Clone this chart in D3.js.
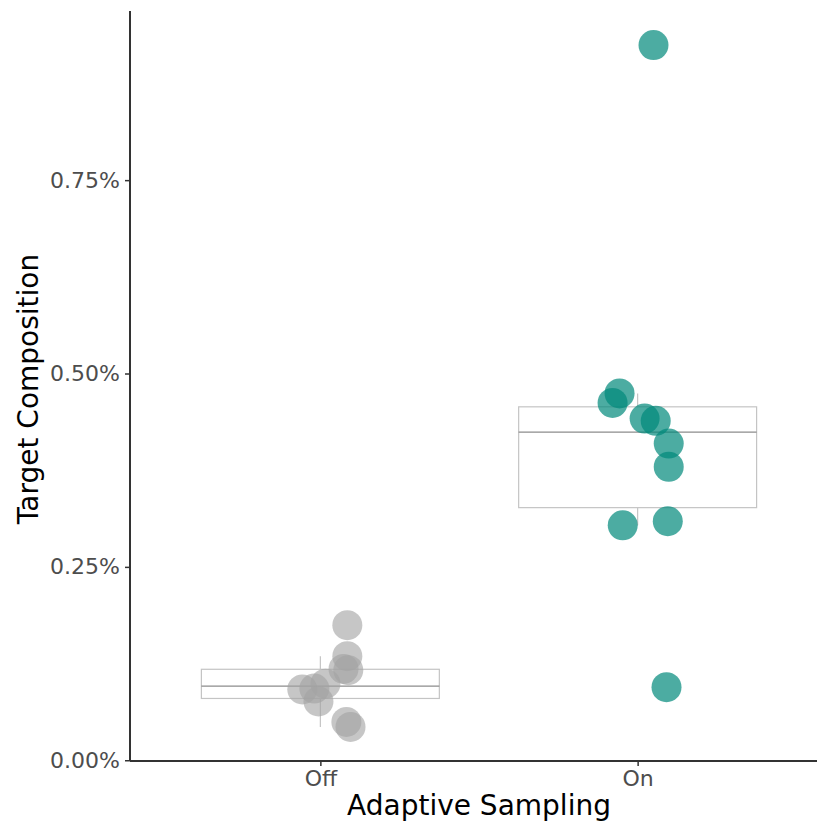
<!DOCTYPE html>
<html>
<head>
<meta charset="utf-8">
<script src="https://cdn.jsdelivr.net/npm/d3@7"></script>
<style>
  html, body { margin: 0; padding: 0; background: #fff; }
  svg { display: block; font-family: "DejaVu Sans", sans-serif; }
</style>
</head>
<body>
<svg width="817" height="824"></svg>
<script>
// groups on the x axis
const groups = ["Off", "On"];

// target composition (percent)
const offValues = [0.1746, 0.1345, 0.1180, 0.1164, 0.0990, 0.0927, 0.0915, 0.0760, 0.0495, 0.0431];
const onValues  = [0.9246, 0.4742, 0.4620, 0.4417, 0.4388, 0.4094, 0.3793, 0.3090, 0.3037, 0.0944];

// horizontal jitter of each point, in units of the category step
const offJitter = [0.085, 0.085, 0.073, 0.088, 0.016, -0.019, -0.057, -0.006, 0.082, 0.095];
const onJitter  = [0.050, -0.057, -0.079, 0.022, 0.057, 0.098, 0.098, 0.095, -0.047, 0.091];

const yTicks = [0, 0.25, 0.5, 0.75];
const groupColors = { Off: "#a3a3a3", On: "#00897b" };

const W = 817, H = 824;
const mLeft = 130, mTop = 11, mBottom = 761;

const svg = d3.select("svg");

const series = [
  { group: "Off", values: offValues, jitter: offJitter },
  { group: "On",  values: onValues,  jitter: onJitter }
];
const allValues = offValues.concat(onValues);
const [lo, hi] = d3.extent(allValues);
const pad = (hi - lo) * 0.05;

const x = d3.scalePoint()
  .domain(groups)
  .range([mLeft, 828])
  .padding(0.6);

const y = d3.scaleLinear()
  .domain([lo - pad, hi + pad])
  .range([mBottom, mTop]);

const step = x.step();
const boxW = step * 0.75;

// boxplot stats (type 7 quantiles, 1.5 IQR whiskers)
function stats(vals) {
  const s = vals.slice().sort(d3.ascending);
  const q1 = d3.quantile(s, 0.25), med = d3.quantile(s, 0.5), q3 = d3.quantile(s, 0.75);
  const iqr = q3 - q1;
  const inside = s.filter(v => v >= q1 - 1.5 * iqr && v <= q3 + 1.5 * iqr);
  return { q1, med, q3, lo: d3.min(inside), hi: d3.max(inside) };
}

const boxes = svg.append("g").selectAll("g")
  .data(series)
  .join("g")
  .attr("transform", d => `translate(${x(d.group)},0)`);

boxes.each(function(d) {
  const st = stats(d.values);
  const g = d3.select(this);
  g.append("line")
    .attr("y1", y(st.hi)).attr("y2", y(st.q3))
    .attr("stroke", "#c4c4c4").attr("stroke-width", 1.2);
  g.append("line")
    .attr("y1", y(st.q1)).attr("y2", y(st.lo))
    .attr("stroke", "#c4c4c4").attr("stroke-width", 1.2);
  g.append("rect")
    .attr("x", -boxW / 2).attr("width", boxW)
    .attr("y", y(st.q3)).attr("height", y(st.q1) - y(st.q3))
    .attr("fill", "none").attr("stroke", "#c4c4c4").attr("stroke-width", 1.2);
  g.append("line")
    .attr("x1", -boxW / 2).attr("x2", boxW / 2)
    .attr("y1", y(st.med)).attr("y2", y(st.med))
    .attr("stroke", "#8c8c8c").attr("stroke-width", 1.3);
});

// points
const points = series.flatMap(s => s.values.map((v, i) => ({ group: s.group, value: v, jitter: s.jitter[i] })));
svg.append("g").selectAll("circle")
  .data(points)
  .join("circle")
  .attr("cx", d => x(d.group) + d.jitter * step)
  .attr("cy", d => y(d.value))
  .attr("r", 15)
  .attr("fill", d => groupColors[d.group])
  .attr("fill-opacity", d => d.group === "Off" ? 0.62 : 0.7);

// axes
const yAxis = svg.append("g")
  .attr("transform", `translate(${mLeft},0)`)
  .call(d3.axisLeft(y).tickValues(yTicks).tickFormat(d => d3.format(".2f")(d) + "%").tickSize(5).tickPadding(5));
const xAxis = svg.append("g")
  .attr("transform", `translate(0,${mBottom})`)
  .call(d3.axisBottom(x).tickSize(5).tickPadding(4));

[yAxis, xAxis].forEach(a => {
  a.select(".domain").attr("stroke", "#333").attr("stroke-width", 2);
  a.selectAll(".tick line").attr("stroke", "#333").attr("stroke-width", 1.5);
  a.selectAll(".tick text").attr("fill", "#4d4d4d").style("font-size", "22px").style("font-family", "DejaVu Sans");
});
yAxis.select(".domain").attr("d", `M0,${mTop}V${mBottom}`);
xAxis.select(".domain").attr("d", `M${mLeft},0H${W}`);

// titles
svg.append("text")
  .attr("x", 479).attr("y", 815)
  .attr("text-anchor", "middle")
  .style("font-size", "28px")
  .attr("fill", "#000")
  .text("Adaptive Sampling");

svg.append("text")
  .attr("transform", "translate(38,389) rotate(-90)")
  .attr("text-anchor", "middle")
  .style("font-size", "28px")
  .attr("fill", "#000")
  .text("Target Composition");
</script>
</body>
</html>
